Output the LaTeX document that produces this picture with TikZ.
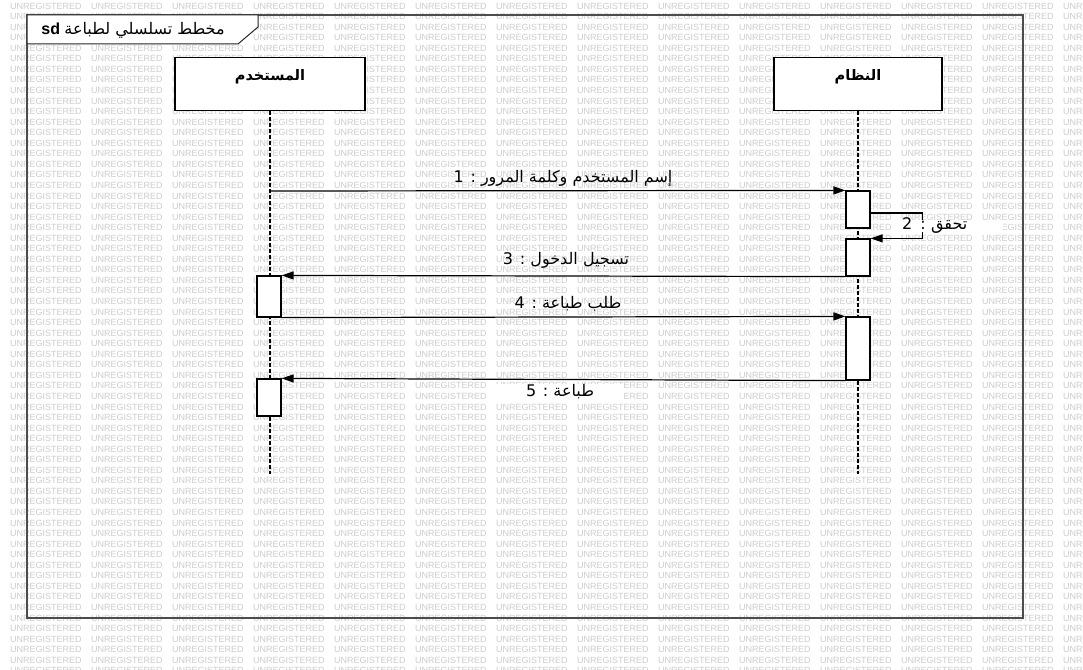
\documentclass[tikz,border=0pt]{standalone}
\usepackage{fontspec}
\setmainfont{Liberation Sans}
\newfontfamily\arabicfont[Script=Arabic]{DejaVu Sans}
\TeXXeTstate=1
\usetikzlibrary{arrows.meta}

\begin{document}
\begin{tikzpicture}[
    x=1pt, y=-1pt,
    wmark/.style={anchor=west, inner sep=0pt, text=black!20, font=\fontsize{9}{9}\selectfont},
    frame/.style={line width=1.6pt, draw=black!70},
    tab/.style={line width=1pt, draw=black!85, fill=white},
    head/.style={draw, line width=1.2pt, fill=white, anchor=north, minimum width=190pt,
        inner ysep=4pt, text height=19pt, text depth=26pt,
        font=\arabicfont\bfseries\fontsize{14.5}{16}\selectfont},
    act/.style={draw, line width=1.2pt, fill=white, minimum width=24pt, inner sep=0pt},
    life/.style={line width=1.2pt, dash pattern=on 4pt off 2pt},
    msg/.style={-{Triangle[length=12pt, width=8pt]}, line width=1.2pt},
    lbl/.style={font=\arabicfont\fontsize{16}{18}\selectfont, inner sep=1pt}
]
\useasboundingbox (0,0) rectangle (1083,669);

% Watermark
\begin{scope}
\clip (0,0) rectangle (1083,669);
\foreach \row in {0,...,63} {
    \foreach \col in {0,...,13} {
        \node[wmark] (w-\row-\col) at ({10+81*\col}, {6+10.55*\row}) {UNREGISTERED};
    }
}
\end{scope}

% Frame and tab
\draw[frame] (27,15) rectangle (1023,618);
\draw[tab] (27,15) -- (258,15) -- (258,27) -- (238,44) -- (27,44) -- cycle;
\node[font=\fontsize{16}{18}\selectfont] (title) at (133,30) {\textbf{sd} {\arabicfont\beginR مخطط تسلسلي لطباعة\endR}};

% Lifeline heads
\node[head] (user) at (270,57) {\beginR المستخدم\endR};
\node[head, minimum width=168pt] (sys) at (858,57) {\beginR النظام\endR};

% Lifelines
\coordinate (uend) at (270,474);
\coordinate (send) at (858,474);
\draw[life] (user) -- (uend);
\draw[life] (sys) -- (send);

% Activations
\node[act, minimum height=37pt] (s1) at (858,209.5) {};
\node[act, minimum height=37pt] (s2) at (858,257.5) {};
\node[act, minimum height=63pt] (s3) at (858,348.5) {};
\node[act, minimum height=41pt] (u1) at (269,296.5) {};
\node[act, minimum height=37pt] (u2) at (269,397.5) {};

% Messages
\coordinate (m1s) at (270,191);
\draw[msg] (m1s) -- (s1.north west);
\draw[msg] ([yshift=-3.5pt]s1.east) -- ++(52,0) |- (s2.north east);
\draw[msg] (s2.south west) -- (u1.north east);
\draw[msg] (u1.south east) -- (s3.north west);
\draw[msg] (s3.south west) -- (u2.north east);

% Message labels
\node[lbl] (m1l) at (563,178) {\beginR إسم المستخدم وكلمة المرور : 1\endR};
\node[lbl, fill=white, anchor=west, inner xsep=2pt, inner ysep=1pt, text height=8pt,
    text depth=2pt, text width=99pt, align=left] (m2l) at (900,226) {\beginR تحقق : 2\endR};
\node[lbl] (m3l) at (566,260) {\beginR تسجيل الدخول : 3\endR};
\node[lbl] (m4l) at (568,304) {\beginR طلب طباعة : 4\endR};
\node[lbl, fill=white, inner xsep=30pt] (m5l) at (560,392) {\beginR طباعة : 5\endR};

\end{tikzpicture}
\end{document}
